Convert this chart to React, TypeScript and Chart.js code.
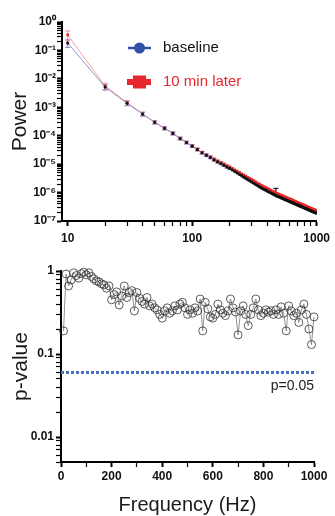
import React, { useEffect, useRef } from 'react';
import { Chart, registerables } from 'chart.js';

Chart.register(...registerables);

const FONT = '"Liberation Sans", Arial, Helvetica, sans-serif';

// ---------- data ----------
const frequencies = [
  10, 20, 30, 40, 50, 60, 70, 80, 90, 100,
  110, 120, 130, 140, 150, 160, 170, 180, 190, 200,
  210, 220, 230, 240, 250, 260, 270, 280, 290, 300,
  310, 320, 330, 340, 350, 360, 370, 380, 390, 400,
  410, 420, 430, 440, 450, 460, 470, 480, 490, 500,
  510, 520, 530, 540, 550, 560, 570, 580, 590, 600,
  610, 620, 630, 640, 650, 660, 670, 680, 690, 700,
  710, 720, 730, 740, 750, 760, 770, 780, 790, 800,
  810, 820, 830, 840, 850, 860, 870, 880, 890, 900,
  910, 920, 930, 940, 950, 960, 970, 980, 990, 1000,
];

const baselinePower = [
  1.82e-1, 5.13e-3, 1.38e-3, 5.75e-4, 2.95e-4, 1.82e-4, 1.20e-4, 7.94e-5, 5.75e-5, 4.27e-5,
  3.24e-5, 2.51e-5, 2.04e-5, 1.70e-5, 1.41e-5, 1.20e-5, 1.05e-5, 9.12e-6, 7.94e-6, 7.08e-6,
  6.21e-6, 5.47e-6, 4.85e-6, 4.33e-6, 3.87e-6, 3.48e-6, 3.15e-6, 2.85e-6, 2.59e-6, 2.37e-6,
  2.17e-6, 1.99e-6, 1.83e-6, 1.69e-6, 1.56e-6, 1.45e-6, 1.36e-6, 1.28e-6, 1.21e-6, 1.14e-6,
  1.07e-6, 1.02e-6, 9.64e-7, 9.12e-7, 8.67e-7, 8.24e-7, 7.85e-7, 7.55e-7, 7.26e-7, 6.98e-7,
  6.73e-7, 6.49e-7, 6.25e-7, 6.03e-7, 5.82e-7, 5.62e-7, 5.45e-7, 5.27e-7, 5.09e-7, 4.94e-7,
  4.79e-7, 4.63e-7, 4.50e-7, 4.37e-7, 4.25e-7, 4.12e-7, 4.01e-7, 3.89e-7, 3.78e-7, 3.68e-7,
  3.59e-7, 3.49e-7, 3.40e-7, 3.32e-7, 3.23e-7, 3.16e-7, 3.08e-7, 3.00e-7, 2.93e-7, 2.86e-7,
  2.79e-7, 2.73e-7, 2.67e-7, 2.61e-7, 2.55e-7, 2.49e-7, 2.44e-7, 2.39e-7, 2.33e-7, 2.29e-7,
  2.24e-7, 2.19e-7, 2.15e-7, 2.10e-7, 2.07e-7, 2.02e-7, 1.99e-7, 1.95e-7, 1.91e-7, 1.87e-7,
];

const laterPower = [
  3.5e-1, 5.6e-3, 1.45e-3, 5.9e-4, 3.0e-4, 1.85e-4, 1.22e-4, 8.1e-5, 5.9e-5, 4.4e-5,
  3.35e-5, 2.6e-5, 2.13e-5, 1.79e-5, 1.5e-5, 1.29e-5, 1.14e-5, 1.0e-5, 8.8e-6, 7.9e-6,
  7.05e-6, 6.3e-6, 5.65e-6, 5.1e-6, 4.6e-6, 4.17e-6, 3.8e-6, 3.46e-6, 3.16e-6, 2.9e-6,
  2.67e-6, 2.45e-6, 2.26e-6, 2.09e-6, 1.94e-6, 1.8e-6, 1.69e-6, 1.59e-6, 1.5e-6, 1.42e-6,
  1.33e-6, 1.27e-6, 1.2e-6, 1.13e-6, 1.08e-6, 1.02e-6, 9.75e-7, 9.4e-7, 9.0e-7, 8.65e-7,
  8.35e-7, 8.05e-7, 7.75e-7, 7.45e-7, 7.2e-7, 6.95e-7, 6.75e-7, 6.5e-7, 6.3e-7, 6.1e-7,
  5.9e-7, 5.72e-7, 5.55e-7, 5.4e-7, 5.25e-7, 5.08e-7, 4.95e-7, 4.8e-7, 4.66e-7, 4.53e-7,
  4.42e-7, 4.3e-7, 4.18e-7, 4.08e-7, 3.97e-7, 3.88e-7, 3.78e-7, 3.68e-7, 3.6e-7, 3.51e-7,
  3.42e-7, 3.35e-7, 3.27e-7, 3.2e-7, 3.12e-7, 3.05e-7, 2.99e-7, 2.92e-7, 2.85e-7, 2.8e-7,
  2.74e-7, 2.68e-7, 2.63e-7, 2.57e-7, 2.53e-7, 2.47e-7, 2.43e-7, 2.38e-7, 2.33e-7, 2.28e-7,
];

// relative SEM (fraction of value) for the low-frequency points where bars are visible
const baselineRelSem = [0.3, 0.22, 0.18, 0.15, 0.13, 0.12, 0.12, 0.11, 0.11, 0.1, 0.1, 0.1, 0.1, 0.09, 0.09, 0.09, 0.09, 0.09, 0.09, 0.09];
const laterRelSem = [0.38, 0.25, 0.2, 0.16, 0.14, 0.13, 0.12, 0.12, 0.11, 0.11, 0.11, 0.1, 0.1, 0.1, 0.1, 0.1, 0.1, 0.1, 0.1, 0.1];
const baselineSpikeHz = [470];
const baselineSpikeTop = [1.4e-6];

const pValues = [
  0.19, 0.92, 0.66, 0.78, 0.95, 0.88, 0.82, 0.93, 0.97, 0.9,
  0.95, 0.86, 0.8, 0.76, 0.74, 0.7, 0.68, 0.62, 0.66, 0.45,
  0.52, 0.56, 0.39, 0.5, 0.66, 0.48, 0.55, 0.58, 0.33, 0.55,
  0.47, 0.43, 0.4, 0.48, 0.38, 0.4, 0.36, 0.34, 0.3, 0.27,
  0.33, 0.36, 0.31, 0.33, 0.38, 0.34, 0.4, 0.42, 0.36, 0.3,
  0.34, 0.31, 0.36, 0.33, 0.46, 0.19, 0.42, 0.35, 0.28, 0.27,
  0.3, 0.4, 0.34, 0.31, 0.29, 0.33, 0.46, 0.36, 0.32, 0.17,
  0.33, 0.38, 0.3, 0.22, 0.3, 0.36, 0.46, 0.34, 0.29, 0.31,
  0.34, 0.32, 0.33, 0.3, 0.34, 0.3, 0.37, 0.31, 0.19, 0.38,
  0.33, 0.29, 0.31, 0.24, 0.34, 0.4, 0.3, 0.2, 0.13, 0.28,
];

const thresholdHz = [0, 1000];
const thresholdP = [0.06, 0.06];
const thresholdLabel = 'p=0.05';

const legendLabels = ['baseline', '10 min later'];

const powerTickValues = [1, 1e-1, 1e-2, 1e-3, 1e-4, 1e-5, 1e-6, 1e-7];
const powerTickLabels = ['10⁰', '10⁻¹', '10⁻²', '10⁻³', '10⁻⁴', '10⁻⁵', '10⁻⁶', '10⁻⁷'];
const logFreqTickValues = [10, 100, 1000];
const logFreqTickLabels = ['10', '100', '1000'];
const pTickValues = [1, 0.1, 0.01];
const pTickLabels = ['1', '0.1', '0.01'];
const linFreqTickValues = [0, 200, 400, 600, 800, 1000];
const linFreqTickLabels = ['0', '200', '400', '600', '800', '1000'];

// ---------- helpers ----------
function logTicks(lo: number, hi: number) {
  const out: { value: number }[] = [];
  for (let e = Math.floor(Math.log10(lo)); e <= Math.ceil(Math.log10(hi)); e++) {
    for (let m = 1; m <= 9; m++) {
      const v = parseFloat((m * Math.pow(10, e)).toPrecision(10));
      if (v >= lo * 0.999999 && v <= hi * 1.000001) out.push({ value: v });
    }
  }
  return out;
}

function findLabel(values: number[], labels: string[], v: number) {
  for (let i = 0; i < values.length; i++) {
    const ref = values[i];
    if (ref === 0 ? Math.abs(v) < 1e-9 : Math.abs(v - ref) / Math.abs(ref) < 1e-6) return labels[i];
  }
  return null;
}

const tickFont = { family: FONT, size: 12, weight: 'bold' as const };

function gridFor(values: number[]) {
  return {
    drawOnChartArea: false,
    drawTicks: true,
    tickLength: 5,
    tickColor: '#000',
    tickWidth: (ctx: any) => (ctx.tick && findLabel(values, values.map(String), ctx.tick.value) !== null ? 2 : 1.2),
  };
}

const errorBarsPlugin = {
  id: 'errorBars',
  beforeDatasetsDraw(chart: any) {
    const { ctx, chartArea, scales } = chart;
    const x = scales.x;
    const y = scales.y;
    ctx.save();
    ctx.beginPath();
    ctx.rect(chartArea.left, chartArea.top - 10, chartArea.right - chartArea.left, chartArea.bottom - chartArea.top + 10);
    ctx.clip();
    const bar = (f: number, hiV: number, loV: number, color: string, w: number, lowCap: boolean) => {
      const px = x.getPixelForValue(f);
      const top = y.getPixelForValue(hiV);
      const bot = y.getPixelForValue(loV);
      ctx.strokeStyle = color;
      ctx.lineWidth = w;
      ctx.beginPath();
      ctx.moveTo(px, top);
      ctx.lineTo(px, bot);
      ctx.moveTo(px - 2.5, top);
      ctx.lineTo(px + 2.5, top);
      if (lowCap) {
        ctx.moveTo(px - 2.5, bot);
        ctx.lineTo(px + 2.5, bot);
      }
      ctx.stroke();
    };
    laterRelSem.forEach((r, i) => bar(frequencies[i], laterPower[i] * (1 + r), laterPower[i] * (1 - r), '#f0909a', 1, true));
    baselineRelSem.forEach((r, i) => bar(frequencies[i], baselinePower[i] * (1 + r), baselinePower[i] * (1 - r), '#8a84c8', 1, true));
    baselineSpikeHz.forEach((hz, k) => {
      const i = frequencies.indexOf(hz);
      bar(hz, baselineSpikeTop[k], baselinePower[i], '#222', 1.2, false);
    });
    ctx.restore();
  },
};

const legendPlugin = {
  id: 'insideLegend',
  afterDraw(chart: any) {
    const { ctx } = chart;
    ctx.save();
    // baseline
    ctx.strokeStyle = '#3050a8';
    ctx.lineWidth = 2.5;
    ctx.beginPath();
    ctx.moveTo(128, 48);
    ctx.lineTo(151, 48);
    ctx.stroke();
    ctx.fillStyle = '#3050a8';
    ctx.beginPath();
    ctx.arc(139.5, 48, 5.5, 0, Math.PI * 2);
    ctx.fill();
    ctx.font = `15px ${FONT}`;
    ctx.textBaseline = 'middle';
    ctx.textAlign = 'left';
    ctx.fillStyle = '#111';
    ctx.fillText(legendLabels[0], 163, 48);
    // later
    ctx.fillStyle = '#e8262b';
    ctx.fillRect(127, 79, 24, 6);
    ctx.fillRect(133, 75.5, 13, 13);
    ctx.fillText(legendLabels[1], 163, 82);
    ctx.restore();
  },
};

const thresholdLabelPlugin = {
  id: 'thresholdLabel',
  afterDraw(chart: any) {
    const { ctx, scales } = chart;
    const px = scales.x.getPixelForValue(thresholdHz[1]);
    const py = scales.y.getPixelForValue(thresholdP[0]);
    ctx.save();
    ctx.font = `14px ${FONT}`;
    ctx.fillStyle = '#222';
    ctx.textAlign = 'right';
    ctx.textBaseline = 'middle';
    ctx.fillText(thresholdLabel, px, py + 14);
    ctx.restore();
  },
};

function topConfig(): any {
  return {
    type: 'line',
    data: {
      datasets: [
        {
          label: legendLabels[0],
          data: frequencies.map((f, i) => ({ x: f, y: baselinePower[i] })),
          borderColor: '#7a78c4',
          borderWidth: 0.8,
          pointStyle: 'circle',
          pointRadius: 1.6,
          pointBackgroundColor: '#111',
          pointBorderColor: '#111',
          pointBorderWidth: 0,
        },
        {
          label: legendLabels[1],
          data: frequencies.map((f, i) => ({ x: f, y: laterPower[i] })),
          borderColor: '#f08888',
          borderWidth: 0.8,
          pointStyle: 'rect',
          pointRadius: 1.9,
          pointBackgroundColor: '#e8262b',
          pointBorderColor: '#e8262b',
          pointBorderWidth: 0,
        },
      ],
    },
    options: {
      responsive: false,
      animation: false,
      devicePixelRatio: 1,
      events: [],
      layout: { padding: { left: 0, right: 17, top: 22, bottom: 0 } },
      plugins: { legend: { display: false }, tooltip: { enabled: false } },
      scales: {
        x: {
          type: 'logarithmic',
          min: 9,
          max: 1000,
          afterBuildTicks: (s: any) => { s.ticks = logTicks(10, 1000); },
          afterFit: (s: any) => { s.height = 27; },
          grid: gridFor(logFreqTickValues),
          border: { display: true, color: '#000', width: 2 },
          ticks: {
            autoSkip: false,
            maxRotation: 0,
            minRotation: 0,
            padding: 5,
            color: '#111',
            font: tickFont,
            callback: (v: number) => findLabel(logFreqTickValues, logFreqTickLabels, v) ?? '',
          },
        },
        y: {
          type: 'logarithmic',
          min: 1e-7,
          max: 1,
          afterBuildTicks: (s: any) => { s.ticks = logTicks(1e-7, 1); },
          afterFit: (s: any) => { s.width = 62; },
          grid: gridFor(powerTickValues),
          border: { display: true, color: '#000', width: 2 },
          title: {
            display: true,
            text: 'Power',
            color: '#1a1a1a',
            font: { family: FONT, size: 21, lineHeight: 1.2 },
            padding: { top: 8, bottom: 0 },
          },
          ticks: {
            autoSkip: false,
            padding: 1,
            color: '#111',
            font: tickFont,
            callback: (v: number) => findLabel(powerTickValues, powerTickLabels, v) ?? '',
          },
        },
      },
    },
    plugins: [errorBarsPlugin, legendPlugin],
  };
}

function bottomConfig(): any {
  return {
    type: 'line',
    data: {
      datasets: [
        {
          label: 'p-value',
          data: frequencies.map((f, i) => ({ x: f, y: pValues[i] })),
          borderColor: '#777',
          borderWidth: 0.8,
          pointStyle: 'circle',
          pointRadius: 4,
          pointBackgroundColor: 'rgba(255,255,255,0)',
          pointBorderColor: '#333',
          pointBorderWidth: 0.8,
          clip: false,
        },
        {
          label: thresholdLabel,
          data: thresholdHz.map((f, i) => ({ x: f, y: thresholdP[i] })),
          borderColor: '#4a70c2',
          borderWidth: 3,
          borderDash: [3, 2],
          pointRadius: 0,
        },
      ],
    },
    options: {
      responsive: false,
      animation: false,
      devicePixelRatio: 1,
      events: [],
      layout: { padding: { left: 0, right: 21, top: 23, bottom: 0 } },
      plugins: { legend: { display: false }, tooltip: { enabled: false } },
      scales: {
        x: {
          type: 'linear',
          min: 0,
          max: 1000,
          afterBuildTicks: (s: any) => {
            const t: { value: number }[] = [];
            for (let v = 0; v <= 1000; v += 100) t.push({ value: v });
            s.ticks = t;
          },
          afterFit: (s: any) => { s.height = 54; },
          grid: gridFor(linFreqTickValues),
          border: { display: true, color: '#000', width: 2 },
          title: {
            display: true,
            text: 'Frequency (Hz)',
            color: '#1a1a1a',
            font: { family: FONT, size: 20, lineHeight: 1.1 },
            padding: { top: 0, bottom: 0 },
          },
          ticks: {
            autoSkip: false,
            maxRotation: 0,
            minRotation: 0,
            padding: 2,
            color: '#111',
            font: tickFont,
            callback: (v: number) => findLabel(linFreqTickValues, linFreqTickLabels, v) ?? '',
          },
        },
        y: {
          type: 'logarithmic',
          min: 0.005,
          max: 1,
          afterBuildTicks: (s: any) => { s.ticks = logTicks(0.005, 1); },
          afterFit: (s: any) => { s.width = 61; },
          grid: gridFor(pTickValues),
          border: { display: true, color: '#000', width: 2 },
          title: {
            display: true,
            text: 'p-value',
            color: '#1a1a1a',
            font: { family: FONT, size: 21, lineHeight: 1.2 },
            padding: { top: 9, bottom: 0 },
          },
          ticks: {
            autoSkip: false,
            padding: 2,
            color: '#111',
            font: tickFont,
            callback: (v: number) => findLabel(pTickValues, pTickLabels, v) ?? '',
          },
        },
      },
    },
    plugins: [thresholdLabelPlugin],
  };
}

export default function App() {
  const topRef = useRef<HTMLCanvasElement>(null);
  const botRef = useRef<HTMLCanvasElement>(null);

  useEffect(() => {
    const c1 = new Chart(topRef.current as HTMLCanvasElement, topConfig());
    const c2 = new Chart(botRef.current as HTMLCanvasElement, bottomConfig());
    return () => {
      c1.destroy();
      c2.destroy();
    };
  }, []);

  return (
    <div style={{ position: 'absolute', left: 0, top: 0, width: 335, height: 516, background: '#fff' }}>
      <canvas
        ref={topRef}
        width={335}
        height={248}
        style={{ position: 'absolute', left: 0, top: 0, width: 335, height: 248, display: 'block' }}
      />
      <canvas
        ref={botRef}
        width={335}
        height={268}
        style={{ position: 'absolute', left: 0, top: 248, width: 335, height: 268, display: 'block' }}
      />
    </div>
  );
}
